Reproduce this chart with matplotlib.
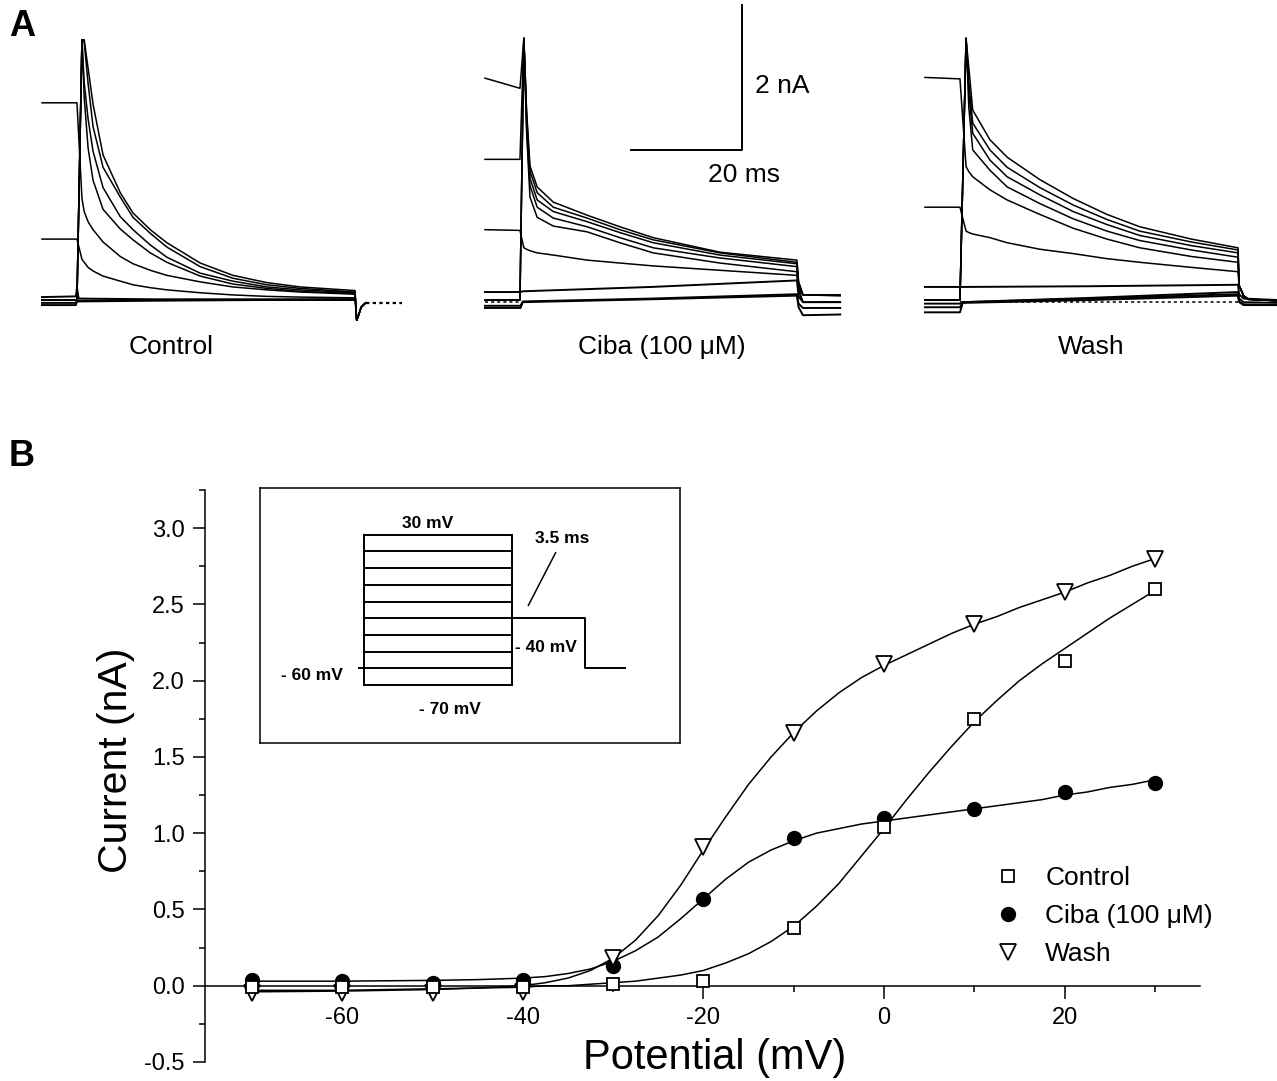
#!/usr/bin/env python3
"""Na current traces (A) and peak I-V relation (B): control, Ciba, wash."""

import matplotlib

matplotlib.use("Agg")
import matplotlib.pyplot as plt
from matplotlib.ticker import MultipleLocator, FormatStrFormatter

W, H, DPI = 1277, 1081, 100
FONT = ["Liberation Sans", "DejaVu Sans"]
plt.rcParams["font.family"] = FONT
plt.rcParams["axes.unicode_minus"] = False

# ---------------------------------------------------------------------------
# Panel B data: peak current vs prepulse potential
# ---------------------------------------------------------------------------
POTENTIAL = [-70, -60, -50, -40, -30, -20, -10, 0, 10, 20, 30]
I_CONTROL = [-0.01, -0.01, -0.01, -0.01, 0.01, 0.03, 0.38, 1.04, 1.75, 2.13, 2.60]
I_CIBA = [0.04, 0.03, 0.02, 0.04, 0.13, 0.57, 0.97, 1.10, 1.16, 1.27, 1.33]
I_WASH = [-0.05, -0.05, -0.05, -0.04, 0.18, 0.91, 1.66, 2.11, 2.37, 2.58, 2.80]

# fitted curves
FIT_V = [-70, -60, -50, -45, -40, -37.5, -35, -32.5, -30, -27.5, -25, -22.5,
         -20, -17.5, -15, -12.5, -10, -7.5, -5, -2.5, 0, 2.5, 5, 7.5, 10,
         12.5, 15, 17.5, 20, 22.5, 25, 27.5, 30]
FIT_CONTROL = [-0.03, -0.03, -0.02, -0.015, -0.01, 0.0, 0.0, 0.01, 0.02, 0.03,
               0.05, 0.07, 0.10, 0.15, 0.21, 0.29, 0.39, 0.52, 0.67, 0.85, 1.03,
               1.22, 1.40, 1.57, 1.73, 1.87, 2.00, 2.11, 2.21, 2.31, 2.41, 2.50,
               2.59]
FIT_CIBA = [0.03, 0.03, 0.035, 0.04, 0.05, 0.06, 0.08, 0.11, 0.16, 0.23, 0.32,
            0.44, 0.57, 0.70, 0.81, 0.89, 0.95, 1.00, 1.03, 1.06, 1.08, 1.10,
            1.12, 1.14, 1.16, 1.18, 1.20, 1.22, 1.25, 1.27, 1.30, 1.32, 1.35]
FIT_WASH = [-0.04, -0.035, -0.025, -0.015, 0.0, 0.02, 0.05, 0.10, 0.18, 0.30,
            0.46, 0.66, 0.89, 1.11, 1.32, 1.50, 1.66, 1.80, 1.92, 2.02, 2.10,
            2.17, 2.24, 2.31, 2.37, 2.42, 2.48, 2.53, 2.58, 2.64, 2.69, 2.75,
            2.80]

LABELS = ["Control", "Ciba (100 μM)", "Wash"]

# ---------------------------------------------------------------------------
# Panel A data: current traces (ms from trace start, nA)
# ---------------------------------------------------------------------------
STEP_ON = 6.3

# Control
CTRL_PRE = [2.72, 0.84, 0.0, 0.0, 0.0, 0.0]
CTRL_T = [7.2, 7.6, 8.3, 9.2, 11.0, 14.1, 16.4, 19.5, 22.5, 28.5, 34.4, 40.5, 46.5, 56.4]
CTRL_I = [
    [1.40, 1.22, 1.08, 0.97, 0.80, 0.60, 0.50, 0.41, 0.34, 0.25, 0.18, 0.14, 0.11, 0.08],
    [0.56, 0.52, 0.45, 0.40, 0.33, 0.26, 0.21, 0.17, 0.14, 0.10, 0.07, 0.05, 0.04, 0.03],
    [3.59, 2.80, 2.10, 1.65, 1.25, 0.98, 0.83, 0.65, 0.52, 0.33, 0.22, 0.16, 0.12, 0.09],
    [3.59, 3.00, 2.50, 2.05, 1.55, 1.15, 0.97, 0.76, 0.59, 0.37, 0.26, 0.18, 0.14, 0.10],
    [3.59, 3.56, 2.99, 2.39, 1.83, 1.42, 1.14, 0.92, 0.73, 0.46, 0.30, 0.21, 0.16, 0.11],
    [3.59, 3.59, 3.20, 2.70, 2.00, 1.48, 1.20, 0.97, 0.79, 0.51, 0.34, 0.24, 0.18, 0.13],
]
CTRL_BASE_T = [0, 6.1, 6.3, 6.6, 20, 40, 56.4]
CTRL_BASE_I = [
    [0.04, 0.05, 0.17, 0.02, 0.01, 0.01, 0.01],
    [-0.04, -0.04, 0.0, -0.01, 0.0, 0.0, 0.01],
    [-0.07, -0.07, -0.02, -0.02, -0.01, 0.0, 0.0],
]
CTRL_TAIL_T = [56.7, 57.0, 57.5, 58.3]
CTRL_TAIL_I = [-0.28, -0.22, -0.10, -0.04]
CTRL_DOT_T = [58.3, 64.9]
CTRL_DOT_I = [-0.04, -0.04]

# Ciba (100 uM)
CIBA_PRE_A = [3.06, 1.94, 0.0, 0.0, 0.0, 0.97]
CIBA_PRE_B = [2.92, 1.94, 0.0, 0.0, 0.0, 0.96]
CIBA_T = [7.0, 7.5, 8.1, 9.4, 12.3, 18.4, 24.3, 30.3, 42.3, 56.2]
CIBA_I = [
    [3.61, 2.60, 1.85, 1.56, 1.35, 1.17, 1.01, 0.86, 0.66, 0.55],
    [3.61, 2.55, 1.78, 1.48, 1.28, 1.13, 0.97, 0.83, 0.65, 0.52],
    [3.61, 2.50, 1.68, 1.38, 1.22, 1.08, 0.93, 0.79, 0.62, 0.50],
    [3.61, 2.40, 1.58, 1.28, 1.13, 1.01, 0.86, 0.72, 0.58, 0.46],
    [3.61, 2.30, 1.42, 1.14, 1.02, 0.94, 0.79, 0.65, 0.51, 0.39],
    [0.72, 0.70, 0.68, 0.65, 0.62, 0.55, 0.51, 0.47, 0.41, 0.34],
]
CIBA_TAIL_T = [56.5, 57.3, 64.0]
CIBA_TAIL_I = [
    [0.25, 0.07, 0.07],
    [0.25, 0.07, 0.07],
    [0.20, 0.07, 0.06],
    [0.15, -0.03, -0.03],
    [0.12, -0.03, -0.03],
    [0.15, 0.07, 0.06],
]
CIBA_BASE_T = [0, 6.4, 6.8, 30, 56.2, 56.5, 57.3, 64.0]
CIBA_BASE_I = [
    [0.11, 0.11, 0.12, 0.18, 0.27, 0.05, -0.03, -0.03],
    [-0.08, -0.08, -0.02, 0.02, 0.08, -0.05, -0.11, -0.11],
    [-0.11, -0.11, -0.03, 0.01, 0.06, -0.10, -0.21, -0.20],
]
CIBA_DOT_T = [0, 6.4]
CIBA_DOT_I = [-0.03, -0.03]

# Wash
WASH_PRE_A = [0.0, 0.0, 0.0, 0.0, 3.07, 1.28]
WASH_PRE_B = [0.0, 0.0, 0.0, 0.0, 3.05, 1.28]
WASH_T = [7.4, 7.9, 8.6, 11.7, 14.8, 20.7, 26.7, 32.8, 38.7, 48.0, 56.4]
WASH_I = [
    [3.61, 3.20, 2.62, 2.21, 1.97, 1.66, 1.40, 1.18, 1.01, 0.84, 0.72],
    [3.61, 3.00, 2.44, 2.07, 1.83, 1.55, 1.31, 1.11, 0.95, 0.80, 0.69],
    [3.61, 2.85, 2.30, 1.93, 1.70, 1.45, 1.22, 1.04, 0.89, 0.75, 0.65],
    [3.61, 2.65, 2.07, 1.79, 1.56, 1.33, 1.12, 0.95, 0.82, 0.69, 0.59],
    [1.84, 1.77, 1.70, 1.52, 1.38, 1.18, 0.99, 0.84, 0.72, 0.60, 0.52],
    [0.95, 0.93, 0.91, 0.86, 0.79, 0.70, 0.64, 0.57, 0.52, 0.45, 0.39],
]
WASH_TAIL_T = [56.6, 57.4, 58.2, 63.4]
WASH_TAIL_I = [0.20, 0.06, 0.01, -0.01]
WASH_BASE_T = [0, 6.3, 6.8, 30, 56.4, 56.6, 57.4, 63.4]
WASH_BASE_I = [
    [0.18, 0.18, 0.18, 0.19, 0.21, 0.08, 0.02, 0.0],
    [-0.05, -0.05, -0.03, 0.03, 0.11, 0.02, -0.03, -0.04],
    [-0.10, -0.10, -0.03, 0.02, 0.08, -0.02, -0.06, -0.07],
    [-0.17, -0.17, -0.04, 0.0, 0.06, -0.03, -0.07, -0.07],
]
WASH_DOT_T = [6.3, 56.4]
WASH_DOT_I = [-0.03, -0.03]

SCALE_MS, SCALE_NA = 20, 2

# ---------------------------------------------------------------------------
# Inset: voltage protocol, schematic units (box is 420 x 255, y downwards)
# ---------------------------------------------------------------------------
PROTO_LEFT, PROTO_RIGHT = 104, 252
PROTO_LEVELS = [47, 63, 80, 97, 114, 130, 147, 164, 180, 197]
PROTO_HOLD = 180
PROTO_TEST_X = [252, 325, 325, 365]
PROTO_TEST_Y = [130, 130, 180, 180]

# ---------------------------------------------------------------------------
# Layout helpers (pixel -> figure fraction)
# ---------------------------------------------------------------------------
PX_PER_MS, PX_PER_NA, BASE_PX = 5.55, 72.5, 300
PANEL_START_PX = [42, 485, 925]
LW = 1.1


def fx(px):
    return px / W


def fy(py):
    return 1 - py / H


fig = plt.figure(figsize=(W / DPI, H / DPI), dpi=DPI)

# ---------------------------------------------------------------------------
# Panel A
# ---------------------------------------------------------------------------
axA = fig.add_axes([0, fy(330), 1, 330 / H])
axA.set_xlim(0, W / PX_PER_MS)
axA.set_ylim(-30 / PX_PER_NA, BASE_PX / PX_PER_NA)
axA.axis("off")


def draw_decays(off, pre_a, pre_b, t, vals, tail_t, tail_i):
    for k, v in enumerate(vals):
        ti = tail_i[k] if isinstance(tail_i[0], list) else tail_i
        ts = [0, STEP_ON] + t + tail_t
        ys = [pre_a[k], pre_b[k]] + v + ti
        axA.plot([off + s for s in ts], ys, color="black", lw=LW)


def draw_lines(off, t, rows, **kw):
    for r in rows:
        axA.plot([off + s for s in t], r, color="black", lw=kw.get("lw", LW),
                 ls=kw.get("ls", "-"))


offs = [p / PX_PER_MS for p in PANEL_START_PX]

# control
draw_decays(offs[0], CTRL_PRE, CTRL_PRE, CTRL_T, CTRL_I, CTRL_TAIL_T, CTRL_TAIL_I)
draw_lines(offs[0], CTRL_BASE_T, CTRL_BASE_I, lw=1.4)
draw_lines(offs[0], CTRL_DOT_T, [CTRL_DOT_I], ls=(0, (1.5, 1.5)), lw=1.6)

# ciba
draw_decays(offs[1], CIBA_PRE_A, CIBA_PRE_B, CIBA_T, CIBA_I, CIBA_TAIL_T, CIBA_TAIL_I)
draw_lines(offs[1], CIBA_BASE_T, CIBA_BASE_I, lw=1.4)
draw_lines(offs[1], CIBA_DOT_T, [CIBA_DOT_I], ls=(0, (2, 2)))

# wash
draw_decays(offs[2], WASH_PRE_A, WASH_PRE_B, WASH_T, WASH_I, WASH_TAIL_T, WASH_TAIL_I)
draw_lines(offs[2], WASH_BASE_T, WASH_BASE_I, lw=1.4)
draw_lines(offs[2], WASH_DOT_T, [WASH_DOT_I], ls=(0, (2, 2)))

# scale bar
sb_x = 742 / PX_PER_MS
sb_y = (BASE_PX - 150) / PX_PER_NA
axA.plot([sb_x - SCALE_MS, sb_x, sb_x], [sb_y, sb_y, sb_y + SCALE_NA],
         color="black", lw=1.4)
fig.text(fx(755), fy(86), "2 nA", fontsize=19, ha="left", va="center")
fig.text(fx(744), fy(175), "20 ms", fontsize=19, ha="center", va="center")

for lab, cx in zip(LABELS, [171, 662, 1091]):
    fig.text(fx(cx), fy(347), lab, fontsize=19, ha="center", va="center")

fig.text(fx(9), fy(27), "A", fontsize=26, fontweight="bold", ha="left", va="center")
fig.text(fx(9), fy(456), "B", fontsize=26, fontweight="bold", ha="left", va="center")

# ---------------------------------------------------------------------------
# Panel B
# ---------------------------------------------------------------------------
axB = fig.add_axes([fx(205), fy(1062), (1200 - 205) / W, (1062 - 490) / H])
axB.set_xlim(-75.2, 35.0)
axB.set_ylim(-0.5, 3.25)

axB.plot(FIT_V, FIT_CONTROL, color="black", lw=LW, zorder=2)
axB.plot(FIT_V, FIT_CIBA, color="black", lw=LW, zorder=2)
axB.plot(FIT_V, FIT_WASH, color="black", lw=LW, zorder=2)

h_ctrl, = axB.plot(POTENTIAL, I_CONTROL, ls="none", marker="s", ms=9,
                   mfc="white", mec="black", mew=1.3, zorder=4, label=LABELS[0])
h_ciba, = axB.plot(POTENTIAL, I_CIBA, ls="none", marker="o", ms=10,
                   mfc="black", mec="black", zorder=3, label=LABELS[1])
h_wash, = axB.plot(POTENTIAL, I_WASH, ls="none", marker="v", ms=11,
                   mfc="white", mec="black", mew=1.3, zorder=3, label=LABELS[2])

for s in ["top", "right"]:
    axB.spines[s].set_visible(False)
axB.spines["bottom"].set_position(("data", 0))
axB.spines["left"].set_linewidth(1.1)
axB.spines["bottom"].set_linewidth(1.1)

axB.xaxis.set_major_locator(MultipleLocator(20))
axB.xaxis.set_minor_locator(MultipleLocator(10))
axB.yaxis.set_major_locator(MultipleLocator(0.5))
axB.yaxis.set_minor_locator(MultipleLocator(0.25))
axB.yaxis.set_major_formatter(FormatStrFormatter("%.1f"))
axB.tick_params(axis="both", which="major", direction="out", labelsize=17, width=1.1)
axB.tick_params(axis="y", which="major", length=8.5, pad=6)
axB.tick_params(axis="x", which="major", length=9, pad=6)
axB.tick_params(axis="both", which="minor", direction="out", length=4.5, width=1.1)

axB.set_xlabel("Potential (mV)", fontsize=30)
axB.xaxis.set_label_coords((715 - 205) / 995, (1062 - 1058) / 572)
axB.xaxis.label.set_va("center")
axB.set_ylabel("Current (nA)", fontsize=29.5)
axB.yaxis.set_label_coords((116 - 205) / 995, (1062 - 760) / 572)
axB.yaxis.label.set_va("center")

axB.legend(handles=[h_ctrl, h_ciba, h_wash], loc="upper left",
           bbox_to_anchor=(fx(995), fy(866)), bbox_transform=fig.transFigure,
           frameon=False, fontsize=19, handlelength=1.0, handletextpad=0.9,
           labelspacing=0.53, borderpad=0, borderaxespad=0)

# inset: pulse protocol
axI = fig.add_axes([fx(260), fy(743), 420 / W, 255 / H])
axI.set_xlim(0, 420)
axI.set_ylim(255, 0)
axI.set_xticks([])
axI.set_yticks([])
for s in axI.spines.values():
    s.set_linewidth(1.1)

for y in PROTO_LEVELS:
    axI.plot([PROTO_LEFT, PROTO_RIGHT], [y, y], color="black", lw=1.4)
axI.plot([PROTO_LEFT, PROTO_LEFT], [PROTO_LEVELS[0], PROTO_LEVELS[-1]], color="black", lw=1.4)
axI.plot([PROTO_RIGHT, PROTO_RIGHT], [PROTO_LEVELS[0], PROTO_LEVELS[-1]], color="black", lw=1.4)
axI.plot([PROTO_LEFT - 5, PROTO_LEFT], [PROTO_HOLD, PROTO_HOLD], color="black", lw=1.4)
axI.plot(PROTO_TEST_X, PROTO_TEST_Y, color="black", lw=1.4)
axI.annotate("", xy=(267, 120), xytext=(297, 62),
             arrowprops=dict(arrowstyle="-", color="black", lw=1.1))

ins_kw = dict(fontsize=12.5, fontweight="bold", ha="center", va="center")
axI.text(168, 35, "30 mV", **ins_kw)
axI.text(302, 50, "3.5 ms", **ins_kw)
axI.text(286, 160, "- 40 mV", **ins_kw)
axI.text(52, 187, "- 60 mV", **ins_kw)
axI.text(190, 222, "- 70 mV", **ins_kw)

fig.savefig("out.png", dpi=DPI)
